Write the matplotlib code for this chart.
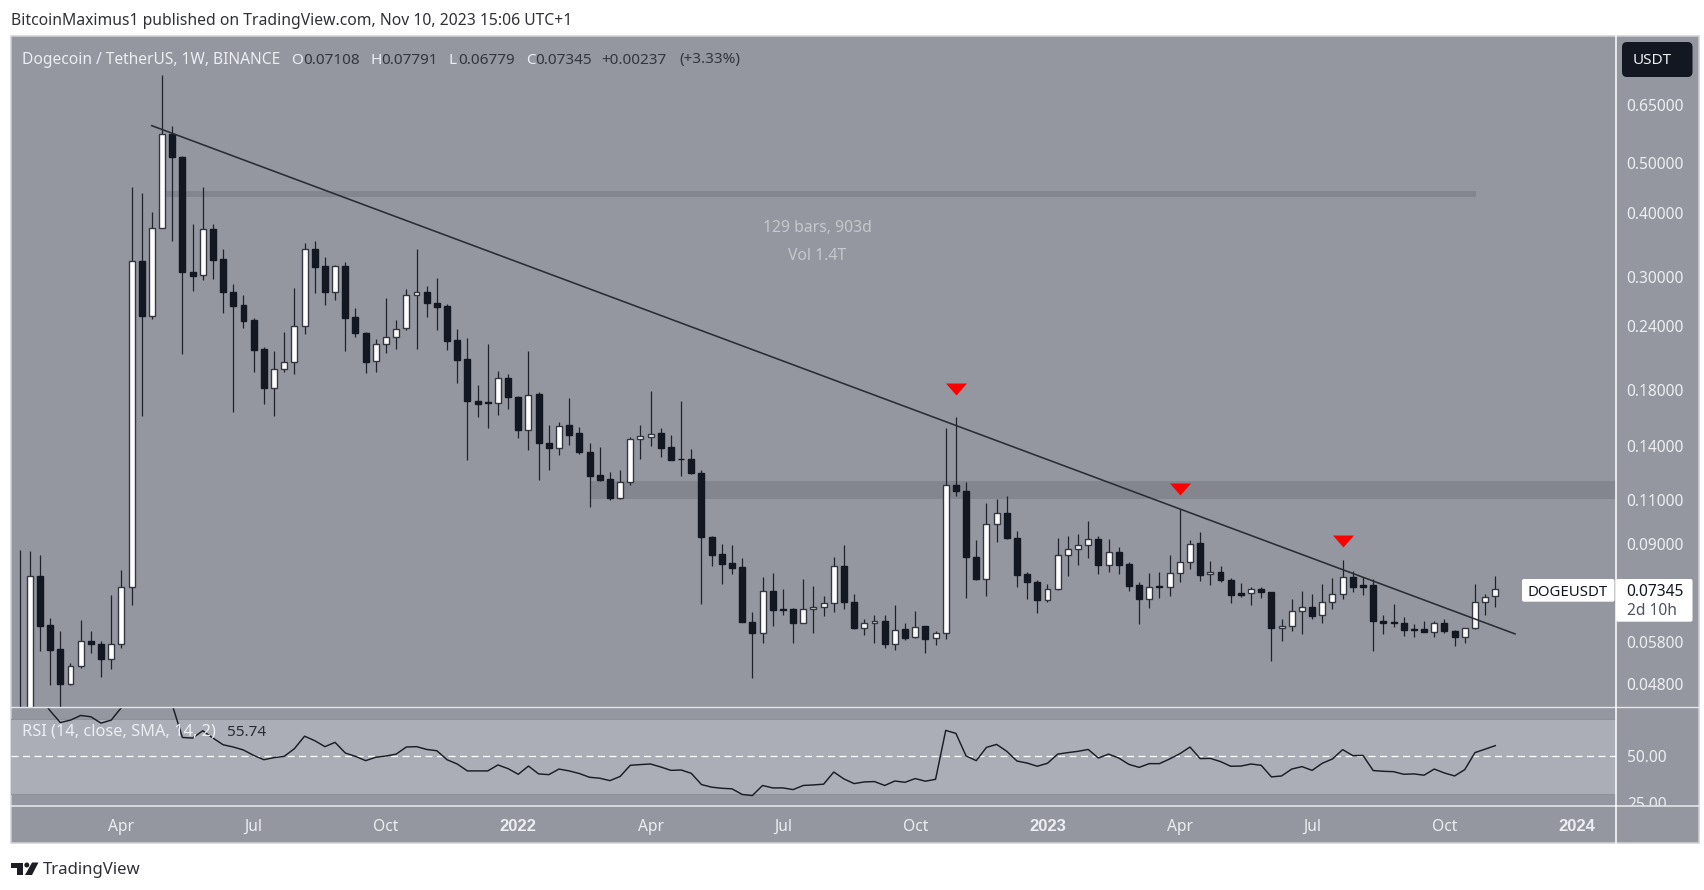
"""DOGE/USDT weekly TradingView chart with falling trend line and RSI pane."""

import matplotlib
matplotlib.use("Agg")
import matplotlib.dates as mdates
import matplotlib.pyplot as plt
import matplotlib.patches as mpatches
from matplotlib.ticker import FixedLocator, NullLocator
from matplotlib.transforms import ScaledTranslation
import pandas as pd

W, H = 1704, 890
FONT = "Noto Sans"
plt.rcParams["font.family"] = [FONT, "DejaVu Sans"]

COLORS = {
    "pane": "#94979f",
    "band": "#abaeb7",
    "band_edge": "#8d9099",
    "zone": "#83868f",
    "ink": "#131722",
    "wick": "#1f222b",
    "edge": "#343741",
    "line": "#2a2c33",
    "label": "#eceef2",
    "sep": "#e4e5ea",
}

opens = [
    .0410, .0420, .0777, .0625, .0561, .0479, .0520, .0582, .0574, .0535,
    .0574, .0742, .3212, .2508, .3726, .5687, .5128, .3057, .3016, .3709,
    .3240, .2796, .2635, .2463, .2162, .1814, .1976, .2039, .2398, .3394,
    .3141, .2794, .3141, .2497, .2326, .2047, .2215, .2285, .2376, .2756,
    .2794, .2662, .2623, .2251, .2067, .1711, .1700, .1693, .1897, .1744,
    .1501, .1764, .1418, .1386, .1533, .1481, .1362, .1226, .1203, .1108,
    .1190, .1444, .1457, .1481, .1389, .1320, .1320, .1239, .0929, .0858,
    .0825, .0809, .0634, .0602, .0729, .0672, .0672, .0630, .0672, .0678,
    .0689, .0816, .0694, .0615, .0630, .0637, .0573, .0613, .0591, .0621,
    .0589, .0602, .1172, .1142, .0850, .0768, .0985, .1035, .0923, .0785,
    .0758, .0699, .0734, .0857, .0879, .0896, .0918, .0819, .0866, .0821,
    .0747, .0702, .0743, .0742, .0788, .0829, .0902, .0785, .0793, .0766,
    .0720, .0720, .0735, .0725, .0615, .0621, .0665, .0678, .0652, .0692,
    .0717, .0776, .0747, .0747, .0637, .0632, .0630, .0614, .0613, .0605,
    .0630, .0609, .0591, .0615, .0692, .07108,
]
closes = [
    .0420, .0777, .0623, .0558, .0479, .0520, .0582, .0574, .0535, .0574,
    .0742, .3212, .2508, .3726, .5687, .5128, .3057, .3006, .3709, .3226,
    .2794, .2627, .2452, .2152, .1814, .1976, .2039, .2398, .3389, .3127,
    .2794, .3141, .2489, .2323, .2039, .2212, .2281, .2368, .2756, .2794,
    .2659, .2615, .2244, .2060, .1711, .1690, .1696, .1897, .1741, .1501,
    .1760, .1414, .1385, .1531, .1470, .1358, .1223, .1199, .1108, .1190,
    .1444, .1464, .1477, .1385, .1312, .1317, .1238, .0926, .0856, .0822,
    .0806, .0633, .0602, .0728, .0668, .0667, .0630, .0672, .0678, .0689,
    .0816, .0692, .0617, .0630, .0637, .0573, .0612, .0589, .0620, .0587,
    .0602, .1171, .1142, .0848, .0767, .0985, .1035, .0922, .0782, .0757,
    .0699, .0734, .0857, .0879, .0896, .0918, .0819, .0866, .0818, .0745,
    .0702, .0742, .0741, .0788, .0829, .0900, .0782, .0792, .0764, .0716,
    .0715, .0735, .0723, .0615, .0621, .0666, .0678, .0651, .0692, .0717,
    .0776, .0741, .0742, .0636, .0630, .0630, .0611, .0612, .0605, .0630,
    .0607, .0591, .0615, .0692, .0710, .07345,
]
highs = [
    .0875, .0871, .0855, .0645, .0608, .0527, .0639, .0608, .0581, .0715,
    .0801, .4487, .4362, .4004, .7415, .5896, .5151, .3794, .4487, .3794,
    .3389, .2896, .2756, .2486, .2184, .2143, .2333, .2844, .3482, .3518,
    .3275, .3155, .3202, .2600, .2333, .2261, .2719, .2463, .2831, .3394,
    .2870, .2975, .2647, .2365, .2271, .1838, .2210, .1958, .1929, .1750,
    .2143, .1779, .1535, .1558, .1733, .1522, .1418, .1389, .1245, .1252,
    .1453, .1533, .1789, .1513, .1468, .1711, .1376, .1254, .0932, .0899,
    .0894, .0846, .0663, .0774, .0790, .0733, .0674, .0769, .0743, .0711,
    .0850, .0894, .0717, .0643, .0653, .0653, .0683, .0631, .0666, .0623,
    .0609, .1513, .1590, .1190, .0915, .1080, .1100, .1116, .0953, .0792,
    .0765, .0751, .0924, .0933, .0939, .0995, .0933, .0919, .0888, .0829,
    .0757, .0788, .0792, .0855, .1053, .0915, .0947, .0834, .0813, .0771,
    .0755, .0742, .0740, .0726, .0641, .0701, .0729, .0718, .0751, .0771,
    .0838, .0796, .0776, .0769, .0653, .0687, .0648, .0627, .0635, .0635,
    .0641, .0611, .0617, .0751, .0719, .07791,
]
lows = [
    .0400, .0400, .0556, .0477, .0430, .0477, .0515, .0551, .0495, .0513,
    .0564, .0684, .1599, .2478, .3726, .3518, .2114, .2805, .2948, .2962,
    .2545, .1631, .2379, .1950, .1688, .1599, .1950, .1934, .2313, .2782,
    .2638, .2694, .2145, .2285, .1943, .1952, .2124, .2165, .2354, .2165,
    .2500, .2354, .2152, .1858, .1312, .1592, .1515, .1606, .1648, .1448,
    .1372, .1199, .1254, .1340, .1405, .1350, .1064, .1194, .1096, .1103,
    .1174, .1318, .1397, .1330, .1310, .1223, .1231, .0687, .0815, .0752,
    .0787, .0632, .0492, .0575, .0623, .0654, .0575, .0629, .0602, .0651,
    .0663, .0671, .0614, .0598, .0575, .0564, .0558, .0584, .0590, .0550,
    .0572, .0587, .1118, .0704, .0765, .0712, .0907, .0918, .0741, .0701,
    .0658, .0692, .0731, .0779, .0819, .0846, .0787, .0793, .0784, .0727,
    .0626, .0674, .0705, .0712, .0758, .0803, .0763, .0748, .0757, .0690,
    .0708, .0683, .0705, .0532, .0581, .0607, .0600, .0641, .0631, .0670,
    .0701, .0726, .0715, .0556, .0600, .0620, .0595, .0592, .0604, .0592,
    .0602, .0568, .0575, .0614, .0653, .06779,
]
rsi = [
    88, 86, 82, 74.4, 68.1, 69.4, 71.9, 71.2, 67.8, 69.4,
    76.1, 92, 82, 88, 92, 77.5, 60.1, 59.8, 63.7, 59.8,
    56.2, 55, 53.4, 50.5, 48.2, 49.3, 50, 54.1, 60.8, 58.4,
    55.2, 57.5, 51.8, 50, 47.7, 49.5, 50.2, 51.2, 55, 55.2,
    53.7, 53, 48.2, 45.9, 42.2, 42.2, 42.2, 45.4, 43.4, 40.4,
    44.8, 40.6, 40.2, 43.2, 42.2, 40.8, 38.8, 38.3, 37, 39.2,
    45.2, 45.6, 45.9, 44.3, 42.5, 42.7, 40.9, 34.9, 33.5, 32.9,
    32.6, 29.6, 29, 34.4, 33.1, 33.1, 32.2, 34.4, 34.7, 35.1,
    41.6, 37.9, 35.4, 36.3, 36.5, 34.4, 36.8, 36.1, 38.1, 36.7,
    37.7, 63.9, 62.3, 50.2, 47.7, 54.8, 56.4, 52.7, 47.5, 46.4,
    44.7, 46.3, 51.2, 52, 52.7, 53.7, 49.1, 51.2, 49.1, 45.7,
    44.1, 46.1, 46.1, 48.6, 51.4, 55, 48.8, 48.9, 47.2, 44.7,
    44.8, 45.9, 45.2, 39, 39.5, 43.2, 44.5, 42.5, 46.3, 48.6,
    53.6, 50.4, 50.5, 42.4, 42, 41.8, 40.4, 40.6, 39.9, 43.2,
    41.1, 39.5, 42.9, 52, 53.9, 55.74,
]

price_ticks = [0.65, 0.50, 0.40, 0.30, 0.24, 0.18, 0.14, 0.11, 0.09, 0.058, 0.048]
price_labels = ["0.65000", "0.50000", "0.40000", "0.30000", "0.24000", "0.18000",
                "0.14000", "0.11000", "0.09000", "0.05800", "0.04800"]
time_ticks = ["2021-04-05", "2021-07-05", "2021-10-04", "2022-01-03", "2022-04-04",
              "2022-07-04", "2022-10-03", "2023-01-02", "2023-04-03", "2023-07-03",
              "2023-10-02", "2024-01-01"]
time_labels = ["Apr", "Jul", "Oct", "2022", "Apr", "Jul", "Oct", "2023", "Apr", "Jul",
               "Oct", "2024"]

dates = pd.date_range("2021-01-25", periods=len(closes), freq="W-MON")
x = mdates.date2num(dates)

# annotations on the chart, in bar index / price
trend_idx = [12.99, 146.94]
trend_price = [0.5904, 0.0600]
zone_upper = (14.29, 143.1, 0.4287, 0.4400)
zone_lower = (56.05, 156.86, 0.1101, 0.1192)
marker_idx = [92, 114, 130]
marker_price = [0.1805, 0.1154, 0.0913]


def px_axes(fig, zorder):
    ax = fig.add_axes([0, 0, 1, 1], zorder=zorder)
    ax.set_xlim(0, W)
    ax.set_ylim(H, 0)
    ax.axis("off")
    return ax


def pane_axes(fig, left, top, right, bottom, zorder=2):
    ax = fig.add_axes([left / W, 1 - bottom / H, (right - left) / W, (bottom - top) / H],
                      zorder=zorder)
    ax.patch.set_alpha(0)
    for s in ax.spines.values():
        s.set_visible(False)
    return ax


def bar_x(i):
    return x[0] + i * 7


def plot_candles(ax):
    ax.vlines(x, lows, highs, color=COLORS["wick"], lw=0.9, zorder=3)
    for xi, o, c in zip(x, opens, closes):
        up = c >= o
        ax.bar(xi, abs(c - o), bottom=min(o, c), width=4.1,
               color="white" if up else COLORS["ink"],
               edgecolor=COLORS["edge"] if up else COLORS["ink"],
               linewidth=1.0, zorder=4)


def main():
    fig = plt.figure(figsize=(W / 100, H / 100), dpi=100, facecolor="white")

    bg = px_axes(fig, 0)
    bg.add_patch(mpatches.Rectangle((11, 36), 1688, 807, facecolor=COLORS["pane"],
                                    edgecolor="#cfd1d6", lw=1.1))

    # price pane
    ax = pane_axes(fig, 11, 36, 1616, 707)
    ax.set_yscale("log")
    ax.set_xlim(bar_x(-0.845), bar_x(156.86))
    ax.set_ylim(0.04319, 0.8838)
    for i0, i1, lo, hi in (zone_upper, zone_lower):
        ax.fill_between([bar_x(i0), bar_x(i1)], lo, hi, color=COLORS["zone"], lw=0, zorder=1)
    plot_candles(ax)
    ax.plot([bar_x(i) for i in trend_idx], trend_price, color=COLORS["line"], lw=1.15, zorder=5)
    ax.scatter([x[i] for i in marker_idx], marker_price, s=229, color="#ff0000", linewidths=0,
               marker=[(-1, 0.57), (1, 0.57), (0, -0.57)], zorder=6)
    ax.set_xticks([])
    ax.yaxis.tick_right()
    ax.yaxis.set_major_locator(FixedLocator(price_ticks))
    ax.yaxis.set_minor_locator(NullLocator())
    ax.set_yticklabels(price_labels, fontsize=11.2, color=COLORS["label"])
    ax.tick_params(axis="y", length=0, pad=7.7)
    nudge = ScaledTranslation(0, -0.5 / 72, fig.dpi_scale_trans)
    for lbl in ax.get_yticklabels():
        lbl.set_transform(lbl.get_transform() + nudge)

    # RSI pane
    ar = pane_axes(fig, 11, 707, 1616, 806)
    ar.set_xlim(ax.get_xlim())
    ar.set_ylim(23.41, 76.43)
    ar.axhspan(30, 70, facecolor=COLORS["band"], lw=0, zorder=1)
    ar.axhline(70, color=COLORS["band_edge"], lw=0.7, zorder=2)
    ar.axhline(30, color=COLORS["band_edge"], lw=0.7, zorder=2)
    ar.axhline(50, color="white", lw=0.9, linestyle=(0, (5.6, 3.6)), zorder=2)
    ar.plot(x, rsi, color="#1b1d24", lw=1.05, zorder=3)
    ar.set_yticks([])
    ar.set_xticks(mdates.date2num(pd.to_datetime(time_ticks)))
    ar.set_xticklabels(time_labels, fontsize=11.2, color=COLORS["label"])
    for lbl in ar.get_xticklabels():
        if lbl.get_text().isdigit():
            lbl.set_fontfamily("Liberation Sans")
            lbl.set_fontweight("bold")
            lbl.set_fontsize(12)
    ar.tick_params(axis="x", length=0, pad=9.5)

    # RSI scale, the 25.00 label is cut by the pane edge
    ars = pane_axes(fig, 1616, 707, 1699, 806)
    ars.set_xlim(0, 83)
    ars.set_ylim(ar.get_ylim())
    ars.set_xticks([])
    ars.set_yticks([])
    for v, txt in ((49, "50.00"), (24, "25.00")):
        ars.text(11, v, txt, fontsize=11.2, color=COLORS["label"], va="center", clip_on=True)

    top = px_axes(fig, 5)
    # separators
    top.plot([11, 1699], [707, 707], color=COLORS["sep"], lw=1.0)
    top.plot([11, 1699], [806, 806], color=COLORS["sep"], lw=1.2)
    top.plot([1616, 1616], [36, 843], color="white", lw=1.1)

    # header
    top.text(11, 21, "BitcoinMaximus1 published on TradingView.com, Nov 10, 2023 15:06 UTC+1",
             fontsize=11.3, color="#2f3136", va="center")
    top.text(22, 60, "Dogecoin / TetherUS, 1W, BINANCE", fontsize=11.2, color=COLORS["label"],
             va="center")
    for lx, txt in ((291, "O"), (370.7, "H"), (449, "L"), (526, "C")):
        top.text(lx, 60, txt, fontsize=11, color=COLORS["label"], va="center")
    for lx, txt in ((303.6, "0.07108"), (381, "0.07791"), (458, "0.06779"), (535.7, "0.07345"),
                    (601, "+0.00237"), (679, "(+3.33%)")):
        top.text(lx, 60, txt, fontsize=11, color="#33363e", va="center")

    # measure tool label
    top.text(817, 228, "129 bars, 903d", fontsize=11.3, color="#c6c8ce", ha="center", va="center")
    top.text(817, 256, "Vol 1.4T", fontsize=11.3, color="#c6c8ce", ha="center", va="center")

    # RSI legend
    top.text(22, 732, "RSI (14, close, SMA, 14, 2)", fontsize=11.8, color=COLORS["label"], va="center")
    top.text(226.7, 732, "55.74", fontsize=11, color="#2a2c33", va="center")

    # USDT button
    top.add_patch(mpatches.FancyBboxPatch((1624, 44), 66.5, 31, boxstyle="round,pad=2,rounding_size=5",
                                          facecolor=COLORS["ink"], edgecolor="none"))
    top.text(1633, 60.5, "USDT", fontsize=11, color=COLORS["label"], va="center")

    # last price labels
    top.add_patch(mpatches.FancyBboxPatch((1524, 581), 88.5, 18.7, boxstyle="round,pad=2,rounding_size=2",
                                          facecolor="white", edgecolor="none"))
    top.text(1568, 592, "DOGEUSDT", fontsize=10.8, color=COLORS["ink"], ha="center", va="center")
    top.add_patch(mpatches.FancyBboxPatch((1618, 581), 72.5, 38.7, boxstyle="round,pad=2,rounding_size=2",
                                          facecolor="white", edgecolor="none"))
    top.text(1626.7, 591.5, "0.07345", fontsize=11.2, color=COLORS["ink"], va="center")
    top.text(1626.7, 611, "2d 10h", fontsize=11.2, color="#50535e", va="center")

    # TradingView logo
    top.add_patch(mpatches.Polygon([(11, 862.5), (22.5, 862.5), (22.5, 875), (16.5, 875),
                                    (16.5, 868), (11, 868)], facecolor="#1c1e24", edgecolor="none"))
    top.add_patch(mpatches.Ellipse((26.8, 865), 5, 5, facecolor="#1c1e24", edgecolor="none"))
    top.add_patch(mpatches.Polygon([(32, 862.5), (38.5, 862.5), (32, 875), (25, 875)],
                                   facecolor="#1c1e24", edgecolor="none"))
    top.text(43, 870.5, "TradingView", fontsize=12.1, color="#2f3136", va="center")

    fig.savefig("out.png", dpi=100, facecolor="white")


if __name__ == "__main__":
    main()
